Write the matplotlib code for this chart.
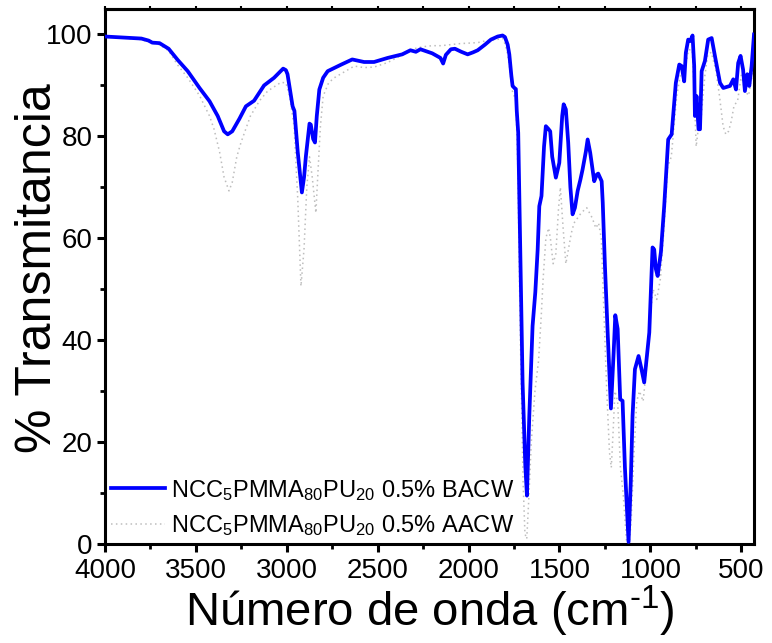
import matplotlib
matplotlib.use("Agg")
import matplotlib.pyplot as plt
from matplotlib.ticker import MultipleLocator, NullFormatter

plt.rcParams['font.family'] = ['Liberation Sans', 'DejaVu Sans']
plt.rcParams['mathtext.fontset'] = 'custom'
plt.rcParams['mathtext.rm'] = 'Liberation Sans'
plt.rcParams['mathtext.it'] = 'Liberation Sans:italic'
plt.rcParams['mathtext.bf'] = 'Liberation Sans:bold'

# FTIR spectrum, sample before aging (BACW)
wn_bacw = [4000, 3900, 3800, 3760, 3740, 3700, 3650, 3600, 3545, 3480, 3425, 3380,
           3345, 3325, 3300, 3260, 3225, 3180, 3125, 3070, 3020, 3005, 2996, 2968,
           2958, 2940, 2917, 2905, 2895, 2875, 2868, 2855, 2845, 2835, 2821, 2800,
           2775, 2700, 2640, 2575, 2520, 2445, 2365, 2320, 2290, 2265, 2200, 2155,
           2140, 2125, 2097, 2075, 2040, 2005, 1975, 1950, 1910, 1877, 1840, 1813,
           1800, 1785, 1776, 1765, 1758, 1745, 1740, 1735, 1727, 1716, 1703, 1688,
           1679, 1666, 1648, 1633, 1620, 1611, 1599, 1585, 1575, 1562, 1551, 1540,
           1520, 1501, 1485, 1477, 1465, 1452, 1440, 1428, 1415, 1400, 1385, 1373,
           1355, 1345, 1331, 1320, 1309, 1295, 1287, 1268, 1262, 1250, 1244, 1235,
           1217, 1202, 1193, 1180, 1166, 1153, 1140, 1120, 1108, 1098, 1085, 1065,
           1050, 1034, 1006, 988, 979, 970, 960, 942, 924, 902, 883, 870,
           860, 841, 828, 814, 805, 792, 781, 768, 759, 755, 746, 735,
           727, 718, 700, 682, 663, 645, 617, 599, 562, 544, 529, 517,
           504, 490, 480, 467, 456, 443, 430]
t_bacw = [99.6, 99.4, 99.2, 98.8, 98.4, 98.3, 97.2, 95.0, 92.8, 89.5, 86.9, 84.0,
          81.0, 80.4, 81.0, 83.5, 85.9, 87.0, 90.0, 91.5, 93.3, 93.0, 92.2, 85.9,
          85.0, 77.0, 69.0, 72.0, 76.1, 82.5, 82.3, 79.5, 78.8, 84.0, 89.2, 91.5,
          92.8, 94.1, 95.1, 94.6, 94.6, 95.4, 96.1, 96.9, 96.6, 97.1, 96.3, 95.4,
          94.3, 96.0, 97.1, 97.2, 96.6, 96.1, 96.5, 96.9, 98.0, 99.0, 99.6, 99.8,
          99.5, 98.0, 96.1, 92.0, 89.9, 89.4, 89.3, 85.0, 80.7, 57.8, 31.7, 15.4,
          9.5, 25.2, 42.8, 49.4, 57.8, 66.3, 68.3, 78.0, 82.0, 81.5, 81.0, 76.0,
          71.9, 74.8, 84.0, 86.3, 85.3, 78.8, 70.0, 64.7, 66.0, 69.3, 71.5, 73.5,
          77.0, 79.4, 76.8, 74.0, 71.2, 72.5, 72.7, 71.2, 67.0, 54.6, 49.3, 41.5,
          26.6, 37.6, 44.9, 42.2, 28.4, 28.1, 15.0, 0.4, 12.0, 25.2, 34.3, 36.9,
          34.5, 31.7, 41.5, 58.2, 57.8, 54.0, 52.6, 57.3, 66.3, 79.4, 80.4, 86.0,
          90.5, 94.1, 93.8, 90.8, 96.4, 99.0, 98.7, 99.8, 93.8, 84.0, 87.9, 81.4,
          81.4, 92.8, 94.8, 99.0, 99.3, 95.8, 90.5, 89.5, 89.9, 91.2, 89.2, 94.4,
          95.8, 93.1, 88.9, 92.2, 89.9, 93.8, 100.0]

# FTIR spectrum, sample after aging (AACW)
wn_aacw = [4000, 3900, 3800, 3740, 3700, 3650, 3600, 3545, 3480, 3425, 3400, 3370,
           3345, 3318, 3300, 3275, 3252, 3200, 3150, 3105, 3032, 3005, 2985, 2960,
           2940, 2922, 2905, 2890, 2875, 2860, 2840, 2830, 2815, 2800, 2770, 2739,
           2629, 2575, 2520, 2445, 2365, 2300, 2250, 2200, 2150, 2100, 2050, 2000,
           1950, 1900, 1850, 1810, 1790, 1776, 1760, 1740, 1730, 1715, 1700, 1690,
           1680, 1670, 1655, 1635, 1615, 1600, 1590, 1575, 1560, 1550, 1535, 1520,
           1505, 1495, 1480, 1465, 1450, 1435, 1420, 1400, 1380, 1350, 1320, 1300,
           1285, 1270, 1255, 1240, 1225, 1215, 1205, 1195, 1180, 1165, 1150, 1130,
           1120, 1105, 1090, 1075, 1060, 1040, 1020, 1000, 985, 965, 945, 925,
           905, 885, 870, 855, 835, 810, 790, 770, 760, 748, 735, 720,
           700, 685, 665, 640, 620, 600, 585, 570, 555, 540, 520, 500,
           480, 460, 440, 430]
t_aacw = [99.5, 99.3, 99.0, 98.3, 98.0, 96.8, 94.0, 91.5, 88.0, 84.0, 81.4, 77.0,
          72.0, 69.3, 71.0, 76.0, 78.8, 84.0, 87.0, 88.9, 90.6, 90.5, 88.0, 82.0,
          68.0, 50.6, 58.0, 70.0, 76.0, 72.0, 65.0, 72.0, 82.0, 87.9, 90.5, 91.5,
          93.8, 93.5, 93.6, 94.5, 96.0, 97.2, 97.6, 97.8, 97.8, 98.0, 98.2, 98.3,
          98.4, 98.8, 99.0, 99.2, 97.0, 94.0, 89.0, 87.0, 75.0, 40.0, 12.0, 2.0,
          1.0, 8.0, 20.0, 30.0, 36.0, 45.0, 52.0, 60.0, 62.0, 60.0, 55.0, 57.0,
          66.0, 70.0, 62.0, 55.0, 58.0, 61.0, 63.0, 64.0, 65.0, 66.0, 64.0, 62.0,
          63.0, 60.0, 45.0, 30.0, 18.0, 15.0, 22.0, 30.0, 28.0, 15.0, 10.0, 0.0,
          -2.0, 5.0, 18.0, 28.0, 30.0, 28.0, 35.0, 45.0, 50.0, 48.0, 52.0, 62.0,
          74.0, 76.0, 82.0, 88.0, 92.0, 93.0, 97.0, 97.0, 90.0, 78.0, 82.0, 84.0,
          92.0, 96.0, 96.5, 93.0, 88.0, 82.0, 80.4, 81.0, 83.0, 86.0, 87.0, 92.0,
          89.0, 88.0, 92.0, 97.0]

label_bacw = r'NCC$_\mathregular{5}$PMMA$_\mathregular{80}$PU$_\mathregular{20}$ 0.5% BACW'
label_aacw = r'NCC$_\mathregular{5}$PMMA$_\mathregular{80}$PU$_\mathregular{20}$ 0.5% AACW'

fig = plt.figure(figsize=(7.72, 6.43), dpi=100)
ax = fig.add_axes([105 / 772, 1 - 544 / 643, (754 - 105) / 772, (544 - 9) / 643])

l2, = ax.plot(wn_aacw, t_aacw, color='#bdbdbd', lw=1.1, linestyle=(0, (1.0, 2.2)),
              label=label_aacw, zorder=2)
l1, = ax.plot(wn_bacw, t_bacw, color='#0000ff', lw=2.7, label=label_bacw,
              zorder=3, solid_joinstyle='round')

ax.set_xlim(4000, 430)
ax.set_ylim(0, 105)
ax.xaxis.set_major_locator(MultipleLocator(500))
ax.xaxis.set_minor_locator(MultipleLocator(250))
ax.yaxis.set_major_locator(MultipleLocator(20))
ax.yaxis.set_minor_locator(MultipleLocator(10))

for s in ax.spines.values():
    s.set_linewidth(2.2)

ax.tick_params(which='major', direction='out', length=6, width=2.2, labelsize=20,
               right=False, top=False)
ax.tick_params(which='minor', direction='out', length=3.5, width=2.0, right=False,
               top=False)
ax.tick_params(axis='x', which='major', pad=4)
ax.tick_params(axis='y', which='major', pad=3)

# short marks along the top edge
top = ax.secondary_xaxis('top')
top.xaxis.set_major_locator(MultipleLocator(250))
top.xaxis.set_major_formatter(NullFormatter())
top.tick_params(direction='out', length=2.5, width=1.5)
top.spines['top'].set_linewidth(2.2)

ax.set_xlabel('Número de onda (cm$^{\\mathregular{\u20101}}$)', fontsize=34, labelpad=0)
ax.set_ylabel('% Transmitancia', fontsize=36)
ax.yaxis.set_label_coords(-0.068, 0.515)

ax.legend(handles=[l1, l2], loc='lower left', bbox_to_anchor=(0.0, 0.0),
          frameon=False, fontsize=17, handlelength=2.3, handletextpad=0.25,
          labelspacing=0.45, borderaxespad=0.1, borderpad=0.15)

fig.savefig('out.png', dpi=100)
